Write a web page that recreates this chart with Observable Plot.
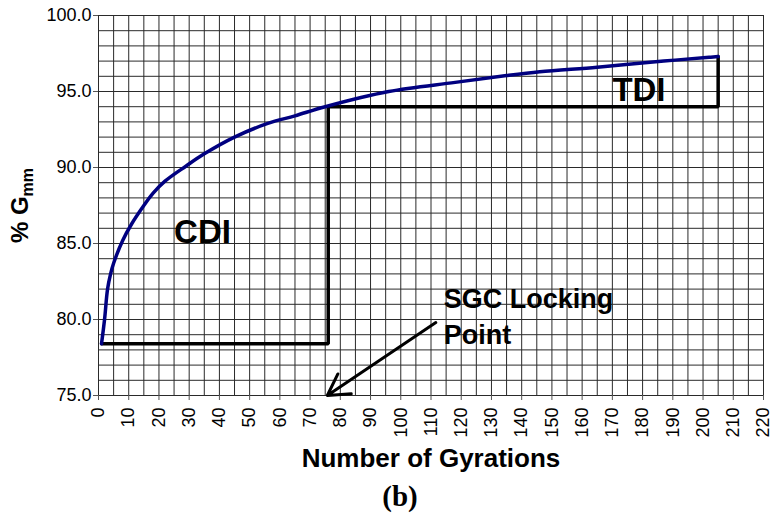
<!DOCTYPE html>
<html>
<head>
<meta charset="utf-8">
<script src="https://cdn.jsdelivr.net/npm/d3@7"></script>
<script src="https://cdn.jsdelivr.net/npm/@observablehq/plot@0.6"></script>
<style>
  html, body { margin: 0; padding: 0; background: #fff; }
  #chart { width: 770px; height: 514px; }
  #chart svg { overflow: visible; }
</style>
</head>
<body>
<div id="chart"></div>
<script>
// Compaction curve (% Gmm vs. number of gyrations)
const gyrations = [1, 2, 3, 4, 5, 8, 11, 15, 18, 22, 29, 35, 45, 56, 65, 75, 96, 118, 135, 146, 165, 187, 202, 205];
const gmm       = [78.4, 80.0, 82.0, 83.0, 83.7, 85.2, 86.3, 87.5, 88.3, 89.1, 90.1, 90.9, 92.0, 92.9, 93.4, 94.0, 95.0, 95.6, 96.05, 96.3, 96.6, 97.0, 97.25, 97.3];

// CDI / TDI region outlines
const cdiX = [1, 76, 76];
const cdiY = [78.4, 78.4, 94.0];
const tdiX = [76, 205, 205];
const tdiY = [94.0, 94.0, 97.3];

// Axis ticks
const xTicks = d3.range(0, 221, 10);
const yTicks = [75, 80, 85, 90, 95, 100];
const xGrid = d3.range(0, 221, 5);
const yGrid = d3.range(75, 101, 1);

// Annotation texts
const labels = [
  {text: "CDI", x: 34.4, y: 85.7},
  {text: "TDI", x: 178.8, y: 95.07}
];
const lockText = {text: "SGC Locking\nPoint", x: 114.2, y: 82.45};
const lockArrow = {x1: 111.6, y1: 79.8, x2: 75.7, y2: 75.0};

const curve = gyrations.map((g, i) => ({g, v: gmm[i]}));
const cdi = cdiX.map((x, i) => ({x, y: cdiY[i]}));
const tdi = tdiX.map((x, i) => ({x, y: tdiY[i]}));

const gridColor = "#2a2a2a";

const chart = Plot.plot({
  width: 770,
  height: 514,
  marginLeft: 98,
  marginRight: 7,
  marginTop: 15,
  marginBottom: 119,
  style: {fontFamily: "'Liberation Sans', Arial, sans-serif", fontSize: "18px", background: "#fff", color: "#000", overflow: "visible"},
  x: {domain: [0, 220]},
  y: {domain: [75, 100]},
  marks: [
    Plot.gridX(xGrid, {stroke: gridColor, strokeOpacity: 1, strokeWidth: 1}),
    Plot.gridY(yGrid, {stroke: gridColor, strokeOpacity: 1, strokeWidth: 1}),
    Plot.axisX({ticks: xTicks, tickRotate: -90, tickSize: 5, tickPadding: 7, label: null, stroke: "#555", fontSize: 18}),
    Plot.axisY({ticks: yTicks, tickFormat: d => d.toFixed(1), tickSize: 5, tickPadding: 2, label: null, stroke: "#555", fontSize: 18}),
    Plot.line(cdi, {x: "x", y: "y", stroke: "#000", strokeWidth: 3.5, strokeLinejoin: "miter"}),
    Plot.line(tdi, {x: "x", y: "y", stroke: "#000", strokeWidth: 3.5, strokeLinejoin: "miter"}),
    Plot.line(curve, {x: "g", y: "v", stroke: "#000080", strokeWidth: 3.5, curve: "catmull-rom"}),
    Plot.arrow([lockArrow], {x1: "x1", y1: "y1", x2: "x2", y2: "y2", stroke: "#000", strokeWidth: 3, headLength: 12}),
    Plot.text(labels, {x: "x", y: "y", text: "text", fontSize: 33, fontWeight: "bold", fill: "#000"}),
    Plot.text([lockText], {x: "x", y: "y", text: "text", fontSize: 27, fontWeight: "bold", fill: "#000", textAnchor: "start", lineAnchor: "top", lineHeight: 1.33}),
    Plot.text(["Number of Gyrations"], {frameAnchor: "bottom", lineAnchor: "bottom", dy: 71, fontSize: 26, fontWeight: "bold", fill: "#000"}),
    Plot.text(["(b)"], {frameAnchor: "bottom", lineAnchor: "bottom", dy: 110, dx: -31, fontSize: 29, fontWeight: "bold", fontFamily: "'Liberation Serif', 'Times New Roman', serif", fill: "#000"}),
    Plot.text(["% Gmm"], {frameAnchor: "left", textAnchor: "middle", rotate: -90, dx: -78, fontSize: 24, fontWeight: "bold", fill: "#000"})
  ]
});

document.getElementById("chart").appendChild(chart);

// Turn "mm" into a subscript
const ns = "http://www.w3.org/2000/svg";
chart.querySelectorAll("text").forEach(t => {
  if (t.textContent === "% Gmm") {
    while (t.firstChild) t.removeChild(t.firstChild);
    const t1 = document.createElementNS(ns, "tspan");
    t1.textContent = "% G";
    const t2 = document.createElementNS(ns, "tspan");
    t2.textContent = "mm";
    t2.setAttribute("font-size", "16");
    t2.setAttribute("dy", "0.3em");
    t.appendChild(t1);
    t.appendChild(t2);
  }
});
</script>
</body>
</html>
